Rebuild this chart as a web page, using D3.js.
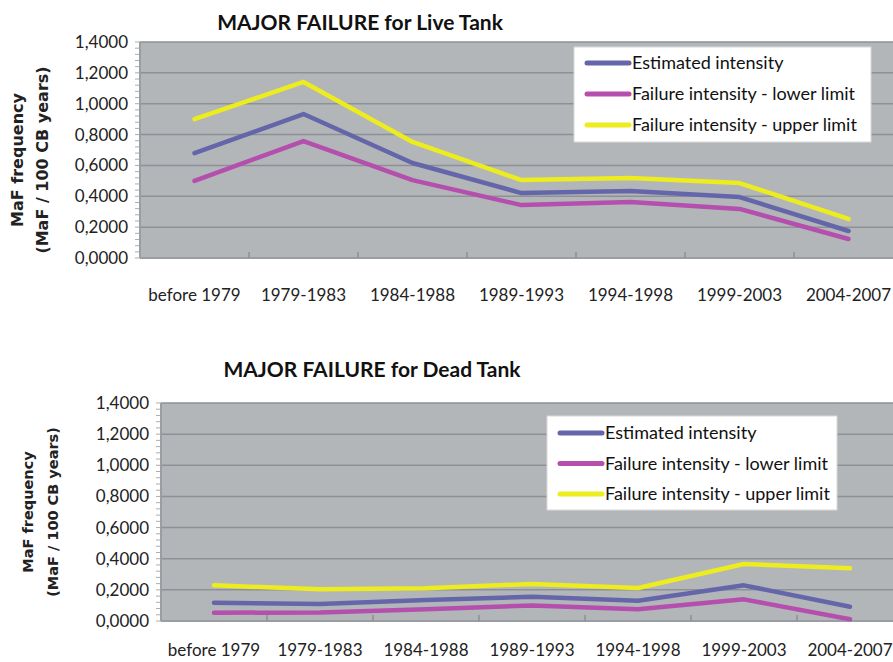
<!DOCTYPE html>
<html>
<head>
<meta charset="utf-8">
<script src="https://cdn.jsdelivr.net/npm/d3@7"></script>
<style>
  body { margin: 0; background: #fff; }
  svg { display: block; }
</style>
</head>
<body>
<svg id="chart" width="893" height="662"></svg>
<script>
// categories shared by both charts
var periods = ["before 1979", "1979-1983", "1984-1988", "1989-1993", "1994-1998", "1999-2003", "2004-2007"];
var yTicks = [0, 0.2, 0.4, 0.6, 0.8, 1.0, 1.2, 1.4];
var seriesNames = ["Estimated intensity", "Failure intensity - lower limit", "Failure intensity - upper limit"];
var seriesColors = ["#6566aa", "#b44fae", "#ecec1e"];

// Live tank values
var liveEstimated = [0.680, 0.933, 0.616, 0.421, 0.434, 0.395, 0.175];
var liveLower     = [0.500, 0.758, 0.505, 0.343, 0.363, 0.318, 0.123];
var liveUpper     = [0.900, 1.141, 0.752, 0.505, 0.519, 0.486, 0.253];

// Dead tank values
var deadEstimated = [0.118, 0.109, 0.135, 0.156, 0.130, 0.229, 0.092];
var deadLower     = [0.053, 0.055, 0.075, 0.100, 0.075, 0.139, 0.011];
var deadUpper     = [0.229, 0.204, 0.210, 0.238, 0.212, 0.366, 0.338];

var svg = d3.select("#chart");
var fmt = function (v) { return d3.format(".4f")(v).replace(".", ","); };

function drawChart(cfg) {
    var g = svg.append("g");
    var x = d3.scaleBand().domain(periods).range([cfg.left, cfg.right]);
    var y = d3.scaleLinear().domain([0, 1.4]).range([cfg.bottom, cfg.top]);

    // plot background
    g.append("rect")
        .attr("x", cfg.left).attr("y", cfg.top)
        .attr("width", cfg.right - cfg.left).attr("height", cfg.bottom - cfg.top)
        .attr("fill", "#b2b6b9");

    // gridlines
    g.selectAll("line.grid").data(yTicks.slice(1)).enter().append("line")
        .attr("class", "grid")
        .attr("x1", cfg.left).attr("x2", cfg.right)
        .attr("y1", function (d) { return y(d); }).attr("y2", function (d) { return y(d); })
        .attr("stroke", "#8d9196").attr("stroke-width", 1.5);

    // minor ticks on the y axis
    g.selectAll("line.minor").data(d3.range(0, 1.4001, 0.04)).enter().append("line")
        .attr("x1", cfg.left - 5).attr("x2", cfg.left)
        .attr("y1", function (d) { return y(d); }).attr("y2", function (d) { return y(d); })
        .attr("stroke", "#a9adb1").attr("stroke-width", 1);

    // axis lines
    g.append("line").attr("x1", cfg.left).attr("x2", cfg.left)
        .attr("y1", cfg.top).attr("y2", cfg.bottom)
        .attr("stroke", "#9a9ea2").attr("stroke-width", 2);
    g.append("line").attr("x1", cfg.left).attr("x2", cfg.right)
        .attr("y1", cfg.bottom).attr("y2", cfg.bottom)
        .attr("stroke", "#9a9ea2").attr("stroke-width", 2);

    // category separators on the x axis
    g.selectAll("line.xtick").data(periods.slice(1)).enter().append("line")
        .attr("x1", function (d) { return x(d); }).attr("x2", function (d) { return x(d); })
        .attr("y1", cfg.bottom).attr("y2", cfg.bottom - 6)
        .attr("stroke", "#8d9196").attr("stroke-width", 1.5);

    // y tick labels
    g.selectAll("text.ylab").data(yTicks).enter().append("text")
        .attr("x", cfg.left - 12)
        .attr("y", function (d) { return y(d) + 6; })
        .attr("text-anchor", "end")
        .attr("font-family", "Lato, sans-serif")
        .attr("font-size", 17)
        .attr("fill", "#222")
        .text(fmt);

    // x tick labels
    g.selectAll("text.xlab").data(periods).enter().append("text")
        .attr("x", function (d) { return x(d) + x.bandwidth() / 2; })
        .attr("y", cfg.xLabelY)
        .attr("text-anchor", "middle")
        .attr("font-family", "Lato, sans-serif")
        .attr("font-size", 17)
        .attr("fill", "#222")
        .text(function (d) { return d; });

    // title
    g.append("text")
        .attr("x", cfg.titleX).attr("y", cfg.titleY)
        .attr("text-anchor", "middle")
        .attr("font-family", "Lato, sans-serif")
        .attr("font-weight", "bold")
        .attr("font-size", 21)
        .attr("fill", "#111")
        .text(cfg.title);

    // y axis title
    var yt = g.append("text")
        .attr("transform", "translate(" + cfg.yTitleX + "," + cfg.yTitleY + ") rotate(-90)")
        .attr("text-anchor", "middle")
        .attr("font-family", "DejaVu Sans, sans-serif")
        .attr("font-weight", "bold")
        .attr("font-size", cfg.yTitleSize)
        .attr("fill", "#222");
    yt.append("tspan").attr("x", 0).attr("dy", 0).text("MaF frequency");
    yt.append("tspan").attr("x", 0).attr("dy", cfg.yTitleGap).text("(MaF / 100 CB years)");

    // series lines
    var line = d3.line()
        .x(function (d, i) { return x(periods[i]) + x.bandwidth() / 2; })
        .y(function (d) { return y(d); });
    cfg.series.forEach(function (s, k) {
        g.append("path")
            .attr("d", line(s))
            .attr("fill", "none")
            .attr("stroke", seriesColors[k])
            .attr("stroke-width", 4.5)
            .attr("stroke-linejoin", "round")
            .attr("stroke-linecap", "round");
    });

    // legend
    var L = cfg.legend;
    g.append("rect")
        .attr("x", L.x).attr("y", L.y).attr("width", L.w).attr("height", L.h)
        .attr("fill", "#fff").attr("stroke", "#d8d8d8");
    seriesNames.forEach(function (name, k) {
        var ly = L.y + L.first + k * L.step;
        g.append("line")
            .attr("x1", L.x + 13).attr("x2", L.x + 55)
            .attr("y1", ly).attr("y2", ly)
            .attr("stroke", seriesColors[k]).attr("stroke-width", 5)
            .attr("stroke-linecap", "round");
        g.append("text")
            .attr("x", L.x + 58).attr("y", ly + 6)
            .attr("font-family", "Lato, sans-serif")
            .attr("font-size", 18)
            .attr("fill", "#111")
            .text(name);
    });
}

drawChart({
    left: 140, right: 903, top: 42, bottom: 258,
    xLabelY: 301, title: "MAJOR FAILURE for Live Tank", titleX: 360, titleY: 30,
    yTitleX: 23, yTitleY: 160, yTitleSize: 16, yTitleGap: 25,
    series: [liveEstimated, liveLower, liveUpper],
    legend: { x: 574, y: 47, w: 297, h: 95, first: 16, step: 31 }
});

drawChart({
    left: 161, right: 903, top: 403, bottom: 621,
    xLabelY: 656, title: "MAJOR FAILURE for Dead Tank", titleX: 372, titleY: 377,
    yTitleX: 33, yTitleY: 512, yTitleSize: 14.5, yTitleGap: 25,
    series: [deadEstimated, deadLower, deadUpper],
    legend: { x: 547, y: 416, w: 290, h: 94, first: 17, step: 30.5 }
});
</script>
</body>
</html>
